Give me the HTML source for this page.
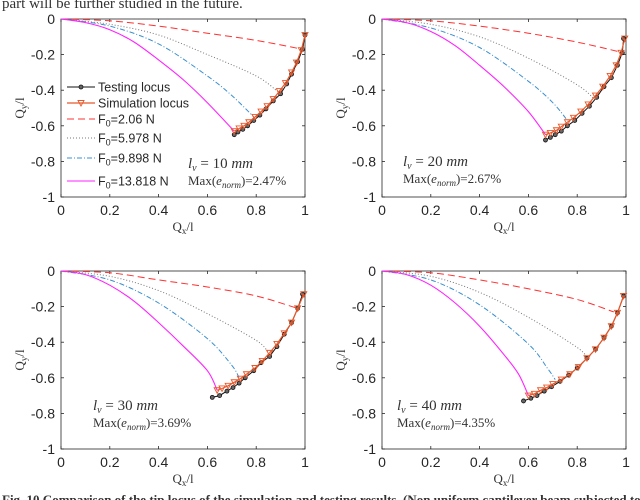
<!DOCTYPE html>
<html><head><meta charset="utf-8">
<style>
html,body{margin:0;padding:0;background:#fff;width:640px;height:500px;overflow:hidden}
svg{display:block}
.tk{font-family:"Liberation Sans",sans-serif;font-size:14px;fill:#262626}
.lg{font-family:"Liberation Sans",sans-serif;font-size:12.5px;fill:#262626}
.ser{font-family:"Liberation Serif",serif;fill:#333}
</style></head>
<body>
<svg id="fig" width="640" height="500" viewBox="0 0 640 500" xmlns="http://www.w3.org/2000/svg">
<text x="2" y="8" class="ser" font-size="15" fill="#222">part will be further studied in the future.</text>
<text x="2" y="504" class="ser" font-size="13" font-weight="bold" fill="#111">Fig. 10 Comparison of the tip locus of the simulation and testing results. (Non uniform cantilever beam subjected to a</text>
</svg>
<script>
// Panel data (Qx/l, Qy/l)
const xTicks = [0, 0.2, 0.4, 0.6, 0.8, 1];
const xTickLabels = ["0", "0.2", "0.4", "0.6", "0.8", "1"];
const yTicks = [0, -0.2, -0.4, -0.6, -0.8, -1];
const yTickLabels = ["0", "-0.2", "-0.4", "-0.6", "-0.8", "-1"];
const panelLabels = ["10", "20", "30", "40"];
const panelErrors = ["2.47%", "2.67%", "3.69%", "4.35%"];
const forceLabels = ["F0=2.06 N", "F0=5.978 N", "F0=9.898 N", "F0=13.818 N"];

// F0 = 2.06 N (red dashed)
const redX = [[0,0.2,0.4,0.6,0.8,0.99],[0,0.2,0.4,0.6,0.8,0.99],[0,0.2,0.4,0.6,0.8,0.97],[0,0.2,0.4,0.6,0.8,0.95]];
const redY = [[0,-0.01,-0.04,-0.08,-0.12,-0.17],[0,-0.01,-0.04,-0.08,-0.13,-0.19],[0,-0.01,-0.05,-0.09,-0.14,-0.21],[0,-0.01,-0.05,-0.10,-0.16,-0.23]];
// F0 = 5.978 N (gray dotted)
const grayX = [[0,0.2,0.4,0.6,0.8,0.89],[0,0.2,0.4,0.6,0.8,0.87],[0,0.2,0.4,0.6,0.8,0.85],[0,0.2,0.4,0.6,0.8,0.84]];
const grayY = [[0,-0.03,-0.09,-0.20,-0.32,-0.41],[0,-0.03,-0.10,-0.22,-0.37,-0.45],[0,-0.03,-0.11,-0.24,-0.39,-0.46],[0,-0.03,-0.12,-0.26,-0.43,-0.49]];
// F0 = 9.898 N (blue dash-dot)
const blueX = [[0,0.2,0.4,0.6,0.7,0.79],[0,0.2,0.4,0.6,0.7,0.76],[0,0.2,0.4,0.6,0.7,0.73],[0,0.2,0.4,0.6,0.68,0.71]];
const blueY = [[0,-0.04,-0.14,-0.32,-0.43,-0.55],[0,-0.05,-0.16,-0.35,-0.47,-0.57],[0,-0.05,-0.18,-0.38,-0.53,-0.60],[0,-0.05,-0.19,-0.41,-0.55,-0.61]];
// F0 = 13.818 N (magenta solid)
const magX = [[0,0.1,0.2,0.3,0.4,0.5,0.6,0.71],[0,0.1,0.2,0.3,0.4,0.5,0.6,0.67],[0,0.1,0.2,0.3,0.4,0.5,0.6,0.64],[0,0.1,0.2,0.3,0.4,0.5,0.56,0.6]];
const magY = [[0,-0.02,-0.06,-0.13,-0.23,-0.34,-0.47,-0.63],[0,-0.02,-0.07,-0.15,-0.26,-0.38,-0.52,-0.65],[0,-0.02,-0.08,-0.17,-0.29,-0.42,-0.56,-0.67],[0,-0.02,-0.08,-0.18,-0.31,-0.47,-0.58,-0.70]];
// Testing locus (black, circles)
const testX = [
 [0.71,0.725,0.745,0.765,0.79,0.815,0.84,0.87,0.90,0.925,0.945,0.97,0.99,1.0],
 [0.67,0.69,0.71,0.735,0.76,0.79,0.82,0.85,0.88,0.91,0.94,0.965,0.985,0.99],
 [0.62,0.65,0.68,0.705,0.73,0.755,0.79,0.82,0.855,0.885,0.915,0.945,0.97,0.99],
 [0.58,0.61,0.635,0.665,0.695,0.73,0.765,0.80,0.84,0.875,0.91,0.94,0.965,0.99]];
const testY = [
 [-0.65,-0.635,-0.62,-0.60,-0.57,-0.54,-0.505,-0.46,-0.42,-0.365,-0.31,-0.24,-0.17,-0.09],
 [-0.68,-0.665,-0.65,-0.63,-0.60,-0.57,-0.53,-0.49,-0.44,-0.38,-0.33,-0.26,-0.19,-0.11],
 [-0.71,-0.70,-0.675,-0.655,-0.63,-0.60,-0.56,-0.515,-0.48,-0.425,-0.355,-0.29,-0.21,-0.13],
 [-0.73,-0.715,-0.70,-0.675,-0.65,-0.62,-0.585,-0.545,-0.49,-0.44,-0.375,-0.31,-0.235,-0.14]];
// Simulation locus (orange, triangles)
const simX = [
 [0.71,0.73,0.75,0.77,0.795,0.82,0.845,0.87,0.895,0.92,0.945,0.965,0.985,1.0],
 [0.67,0.69,0.715,0.735,0.76,0.785,0.815,0.845,0.875,0.905,0.935,0.96,0.98,0.995],
 [0.64,0.66,0.685,0.71,0.735,0.76,0.795,0.825,0.855,0.885,0.915,0.945,0.97,0.995],
 [0.60,0.625,0.65,0.675,0.70,0.735,0.77,0.805,0.84,0.875,0.91,0.94,0.965,0.99]];
const simY = [
 [-0.63,-0.615,-0.60,-0.58,-0.55,-0.52,-0.49,-0.45,-0.405,-0.36,-0.30,-0.245,-0.175,-0.09],
 [-0.65,-0.64,-0.625,-0.605,-0.58,-0.555,-0.52,-0.48,-0.43,-0.38,-0.32,-0.26,-0.19,-0.11],
 [-0.67,-0.66,-0.645,-0.625,-0.605,-0.58,-0.545,-0.505,-0.46,-0.41,-0.35,-0.29,-0.21,-0.13],
 [-0.70,-0.69,-0.67,-0.655,-0.635,-0.61,-0.58,-0.54,-0.49,-0.44,-0.375,-0.31,-0.235,-0.14]];

const NS = "http://www.w3.org/2000/svg";
const svg = document.getElementById("fig");
const boxes = [
 {x0:61, x1:305, y0:19, y1:197, ax:188, ay:168},
 {x0:382, x1:626, y0:19, y1:197, ax:403, ay:166},
 {x0:61, x1:305, y0:271, y1:449, ax:93, ay:410},
 {x0:382, x1:626, y0:271, y1:449, ax:397, ay:410}];

function mk(tag, attrs, parent){
  const e = document.createElementNS(NS, tag);
  for (const k in attrs) e.setAttribute(k, attrs[k]);
  (parent||svg).appendChild(e);
  return e;
}
function smoothPath(pts){
  let d = "M" + pts[0][0].toFixed(1) + "," + pts[0][1].toFixed(1);
  for (let i = 0; i < pts.length-1; i++){
    const p0 = pts[Math.max(0,i-1)], p1 = pts[i], p2 = pts[i+1], p3 = pts[Math.min(pts.length-1,i+2)];
    const c1x = p1[0] + (p2[0]-p0[0])/6, c1y = p1[1] + (p2[1]-p0[1])/6;
    const c2x = p2[0] - (p3[0]-p1[0])/6, c2y = p2[1] - (p3[1]-p1[1])/6;
    d += "C" + [c1x,c1y,c2x,c2y,p2[0],p2[1]].map(v=>v.toFixed(1)).join(",");
  }
  return d;
}

boxes.forEach((b, p) => {
  const sx = v => b.x0 + v*(b.x1-b.x0);
  const sy = v => b.y0 + (-v)*(b.y1-b.y0);
  const g = mk("g", {});
  
  
  const frame = mk("rect", {x:b.x0, y:b.y0, width:b.x1-b.x0, height:b.y1-b.y0, fill:"#fff", stroke:"#262626", "stroke-width":0.8}, g);
  
  
  xTicks.forEach((t, i) => {
    mk("line", {x1:sx(t), x2:sx(t), y1:b.y1, y2:b.y1-3, stroke:"#262626", "stroke-width":0.8}, g);
    mk("line", {x1:sx(t), x2:sx(t), y1:b.y0, y2:b.y0+3, stroke:"#262626", "stroke-width":0.8}, g);
    const tx = mk("text", {x:sx(t), y:b.y1+18, "text-anchor":"middle", class:"tk"}, g);
    tx.textContent = xTickLabels[i];
    
    
  });
  yTicks.forEach((t, i) => {
    mk("line", {x1:b.x0, x2:b.x0+3, y1:sy(t), y2:sy(t), stroke:"#262626", "stroke-width":0.8}, g);
    mk("line", {x1:b.x1, x2:b.x1-3, y1:sy(t), y2:sy(t), stroke:"#262626", "stroke-width":0.8}, g);
    const ty = mk("text", {x:b.x0-6, y:sy(t)+5, "text-anchor":"end", class:"tk"}, g);
    ty.textContent = yTickLabels[i];
    
    
  });
  const xl = mk("text", {x:(b.x0+b.x1)/2, y:b.y1+34, "text-anchor":"middle", class:"ser", "font-size":13}, g);
  xl.innerHTML = 'Q<tspan font-size="9" dy="3">x</tspan><tspan dy="-3">/l</tspan>';
  
  
  const yl = mk("text", {x:0, y:0, "text-anchor":"middle", class:"ser", "font-size":13, transform:`translate(${b.x0-37},${(b.y0+b.y1)/2}) rotate(-90)`}, g);
  yl.innerHTML = 'Q<tspan font-size="9" dy="3">y</tspan><tspan dy="-3">/l</tspan>';
  
  

  const line = (xs, ys, st, name, smooth) => {
    const pts = xs.map((v,i)=>[sx(v), sy(ys[i])]);
    const d = smooth ? smoothPath(pts) : pts.map((q,i)=>(i?"L":"M")+q[0].toFixed(1)+","+q[1].toFixed(1)).join("");
    const pth = mk("path", Object.assign({d:d, fill:"none"}, st), g);
    
    
  };
  line(redX[p], redY[p], {stroke:"#ff3030", "stroke-width":1, "stroke-dasharray":"7 4"}, 'curve-f0-2.06', true);
  line(grayX[p], grayY[p], {stroke:"#777", "stroke-width":1, "stroke-dasharray":"1 2"}, 'curve-f0-5.978', true);
  line(blueX[p], blueY[p], {stroke:"#3a8fd0", "stroke-width":1, "stroke-dasharray":"5 2 1 2"}, 'curve-f0-9.898', true);
  line(magX[p], magY[p], {stroke:"#ff22ff", "stroke-width":1.1}, 'curve-f0-13.818', true);
  line(testX[p], testY[p], {stroke:"#111", "stroke-width":1}, 'testing-locus', false);
  testX[p].forEach((v,i)=>{
    const c = mk("circle", {cx:sx(v), cy:sy(testY[p][i]), r:2, fill:"#666", stroke:"#111", "stroke-width":0.8}, g);
    
    
  });
  line(simX[p], simY[p], {stroke:"#e8582a", "stroke-width":1.2}, 'simulation-locus', false);
  simX[p].forEach((v,i)=>{
    const X = sx(v), Y = sy(simY[p][i]);
    const t = mk("path", {d:`M${X-3},${Y-2.5}L${X+3},${Y-2.5}L${X},${Y+3}Z`, fill:"none", stroke:"#e8582a", "stroke-width":0.9}, g);
    
    
  });
  const a1 = mk("text", {x:b.ax, y:b.ay, class:"ser", "font-size":15, "font-style":"italic"}, g);
  a1.innerHTML = 'l<tspan font-size="10" dy="3">v</tspan><tspan dy="-3" font-style="normal"> = ' + panelLabels[p] + ' </tspan>mm';
  
  
  const a2 = mk("text", {x:b.ax, y:b.ay+17, class:"ser", "font-size":13}, g);
  a2.innerHTML = 'Max(<tspan font-style="italic">e<tspan font-size="9" dy="3">norm</tspan></tspan><tspan dy="-3">)=' + panelErrors[p] + '</tspan>';
  
  
});

// legend in first panel
const lg = mk("g", {});


const legY = [87, 103, 119, 138, 158, 181];
const legNames = ["Testing locus", "Simulation locus"].concat(forceLabels);
const legStyles = [
 {stroke:"#111","stroke-width":1},
 {stroke:"#e8582a","stroke-width":1.2},
 {stroke:"#ff3030","stroke-width":1,"stroke-dasharray":"7 4"},
 {stroke:"#777","stroke-width":1,"stroke-dasharray":"1 2"},
 {stroke:"#3a8fd0","stroke-width":1,"stroke-dasharray":"5 2 1 2"},
 {stroke:"#ff22ff","stroke-width":1.1}];
legNames.forEach((n, i) => {
  const y = legY[i];
  const e = mk("g", {}, lg);
  
  
  mk("line", Object.assign({x1:67, x2:95, y1:y, y2:y}, legStyles[i]), e);
  if (i === 0) mk("circle", {cx:81, cy:y, r:2, fill:"#666", stroke:"#111", "stroke-width":0.8}, e);
  if (i === 1) mk("path", {d:`M78,${y-2.5}L84,${y-2.5}L81,${y+3}Z`, fill:"none", stroke:"#e8582a", "stroke-width":0.9}, e);
  const t = mk("text", {x:98, y:y+4.5, class:"lg"}, e);
  if (i >= 2) {
    const parts = n.split("=");
    t.innerHTML = 'F<tspan font-size="9" dy="3">0</tspan><tspan dy="-3">=' + parts[1] + '</tspan>';
  } else t.textContent = n;
});
</script>
</body></html>
